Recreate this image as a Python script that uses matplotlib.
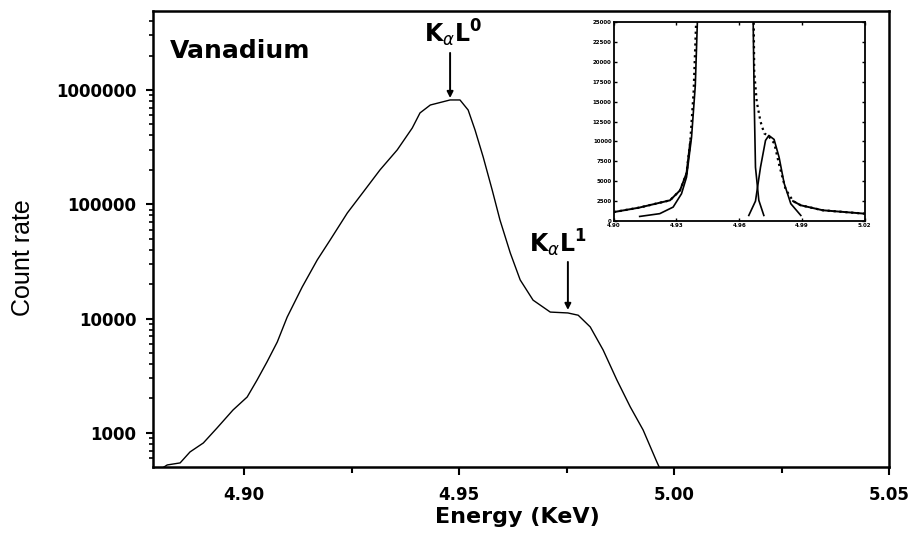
import numpy as np
import matplotlib.pyplot as plt
from matplotlib.ticker import MultipleLocator, LogLocator, NullFormatter

# main spectrum
energy = [4.8805, 4.8821, 4.8851, 4.8874, 4.8905, 4.8937, 4.8974, 4.9007, 4.9030, 4.9053,
          4.9077, 4.9100, 4.9135, 4.9170, 4.9200, 4.9240, 4.9277, 4.9316, 4.9356, 4.9391,
          4.9409, 4.9433, 4.9479, 4.9502, 4.9521, 4.9537, 4.9556, 4.9577, 4.9595, 4.9619,
          4.9642, 4.9672, 4.9712, 4.9753, 4.9777, 4.9805, 4.9835, 4.9867, 4.9898, 4.9928,
          4.9960, 4.9970]
count_rate = [480, 524, 546, 681, 816, 1105, 1585, 2060, 2900, 4170,
              6240, 10300, 18900, 32600, 48700, 84000, 128000, 200000, 299000, 465000,
              630000, 739000, 818000, 818000, 668000, 447000, 259000, 133000, 72900, 37500,
              21800, 14500, 11400, 11200, 10700, 8450, 5310, 2900, 1690, 1060,
              556, 460]

x_ticks = [4.90, 4.95, 5.00, 5.05]
x_labels = ['4.90', '4.95', '5.00', '5.05']
y_ticks = [1000, 10000, 100000, 1000000]
y_labels = ['1000', '10000', '100000', '1000000']

peak0 = (4.9479, 851000)
peak1 = (4.9753, 11900)

# inset (linear scale)
inset_x_ticks = [4.90, 4.93, 4.96, 4.99, 5.02]
inset_y_ticks = [0, 2500, 5000, 7500, 10000, 12500, 15000, 17500, 20000, 22500, 25000]

data_left_x = [4.900, 4.912, 4.9269, 4.9317, 4.9348, 4.9366, 4.9382, 4.9394, 4.9400]
data_left_y = [1125, 1675, 2600, 3850, 6000, 10000, 16250, 25000, 35000]
data_right_x = [4.9666, 4.9672, 4.9684, 4.9702, 4.9720, 4.9738, 4.9768, 4.9792,
                4.9822, 4.9858, 4.9895, 5.0000, 5.0200]
data_right_y = [35000, 18750, 15000, 12500, 11000, 10750, 9750, 7000,
                4000, 2500, 1975, 1350, 925]

l0_x = [4.9124, 4.9220, 4.9284, 4.9324, 4.9348, 4.9372, 4.9390, 4.9400, 4.9408,
        4.9660, 4.9667, 4.9672, 4.9678, 4.9694, 4.9718]
l0_y = [575, 925, 1750, 3425, 5500, 10500, 17000, 25000, 35000,
        35000, 25000, 15000, 6750, 2600, 700]
l1_x = [4.9646, 4.9678, 4.9702, 4.9726, 4.9742, 4.9767, 4.9791, 4.9815, 4.9847, 4.9895]
l1_y = [700, 2500, 6750, 10125, 10750, 10250, 8000, 4750, 2175, 700]

fig = plt.figure(figsize=(9.12, 5.34), dpi=100)
ax = fig.add_axes([0.1678, 0.1255, 0.807, 0.8539])
ax.plot(energy, count_rate, 'k-', lw=1.0)
ax.set_yscale('log')
ax.set_xlim(4.8788, 5.05)
ax.set_ylim(503, 4.91e6)

ax.set_xticks(x_ticks)
ax.set_xticklabels(x_labels)
ax.xaxis.set_minor_locator(MultipleLocator(0.025))
ax.set_yticks(y_ticks)
ax.set_yticklabels(y_labels)
ax.yaxis.set_minor_locator(LogLocator(base=10, subs=np.arange(2, 10)))
ax.yaxis.set_minor_formatter(NullFormatter())
ax.tick_params(axis='y', which='major', direction='out', length=5, width=1.5, pad=7, labelsize=12)
ax.tick_params(axis='y', which='minor', direction='out', length=3, width=1.2)
ax.tick_params(axis='x', which='major', direction='out', length=6, width=1.5, pad=8, labelsize=12)
ax.tick_params(axis='x', which='minor', direction='out', length=4, width=1.5)
for lab in ax.get_xticklabels() + ax.get_yticklabels():
    lab.set_fontweight('bold')
for sp in ax.spines.values():
    sp.set_linewidth(1.8)

ax.text(0.023, 0.897, 'Vanadium', transform=ax.transAxes, fontsize=18,
        fontweight='bold', va='baseline', ha='left')
fig.text(23 / 912, 1 - 258 / 534, 'Count rate', rotation=90, ha='center', va='center',
         fontsize=18, family=['Liberation Sans Narrow', 'Liberation Sans'])
fig.text(517 / 912, 1 - 517 / 534, 'Energy (KeV)', ha='center', va='center',
         fontsize=16, fontweight='bold')

arrow = dict(arrowstyle='-|>', color='k', lw=1.4, mutation_scale=9, shrinkA=0, shrinkB=0)
ax.annotate('', xy=peak0, xytext=(peak0[0], 2.11e6), arrowprops=arrow)
ax.text(4.9487, 2.63e6, r'$\mathbf{K}_{\alpha}\mathbf{L}^{\mathbf{0}}$', fontsize=17,
        ha='center', va='baseline')
ax.annotate('', xy=peak1, xytext=(peak1[0], 31300), arrowprops=arrow)
ax.text(4.9729, 38300, r'$\mathbf{K}_{\alpha}\mathbf{L}^{\mathbf{1}}$', fontsize=17,
        ha='center', va='baseline')

axin = fig.add_axes([0.673, 0.5861, 0.275, 0.3727])
axin.plot(data_left_x, data_left_y, 'k:', lw=1.6)
axin.plot(data_right_x, data_right_y, 'k:', lw=1.6)
axin.plot(data_left_x[:6], data_left_y[:6], 'k-', lw=1.4)
axin.plot(data_right_x[-4:], data_right_y[-4:], 'k-', lw=1.4)
axin.plot(l0_x, l0_y, 'k-', lw=1.2)
axin.plot(l1_x, l1_y, 'k-', lw=1.2)
axin.set_xlim(4.90, 5.02)
axin.set_ylim(0, 25000)
axin.set_xticks(inset_x_ticks)
axin.set_yticks(inset_y_ticks)
axin.tick_params(direction='in', length=2, width=1, labelsize=4, pad=1.5, top=True, right=True)
for lab in axin.get_xticklabels() + axin.get_yticklabels():
    lab.set_fontweight('bold')
for sp in axin.spines.values():
    sp.set_linewidth(1.3)

plt.savefig('out.png', dpi=100)
